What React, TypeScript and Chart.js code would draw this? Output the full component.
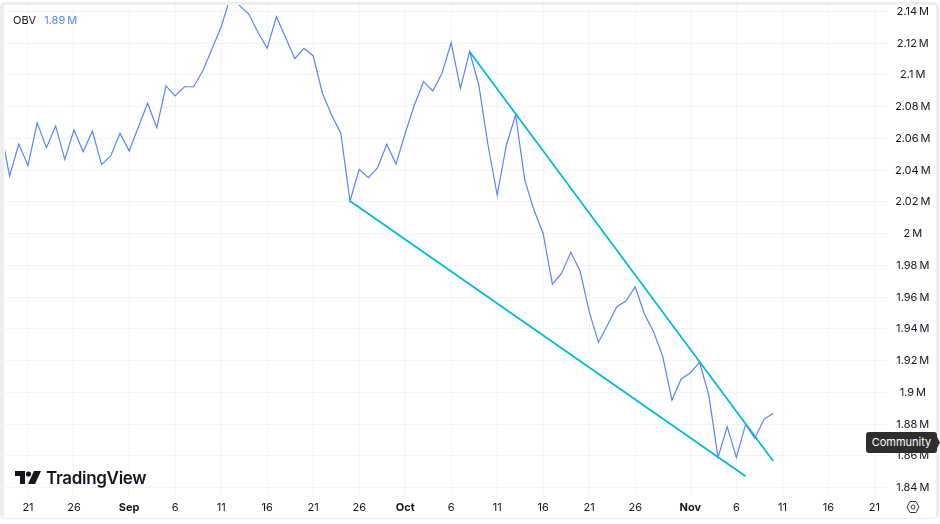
import React, { useEffect, useRef } from "react";
import { Chart, registerables } from "chart.js";

Chart.register(...registerables);

const firstDay = -3;
const obvValues = [
  2.0666, 2.0364, 2.0565, 2.0429, 2.0699, 2.0542, 2.0679, 2.0469, 2.0653, 2.0517,
  2.0647, 2.0435, 2.0492, 2.0633, 2.0521, 2.0672, 2.0822, 2.0668, 2.0931, 2.0868,
  2.0926, 2.0926, 2.1027, 2.1164, 2.1304, 2.1491, 2.1437, 2.1384, 2.1269, 2.1168,
  2.1367, 2.1237, 2.1103, 2.1168, 2.112, 2.0885, 2.0748, 2.0633, 2.0206, 2.0406,
  2.0353, 2.0416, 2.0563, 2.0439, 2.0633, 2.0811, 2.0958, 2.0899, 2.1011, 2.1203,
  2.0916, 2.1147, 2.0937, 2.0559, 2.0244, 2.0559, 2.0748, 2.0338, 2.0149, 2.0,
  1.9683, 1.9751, 1.9883, 1.9767, 1.9509, 1.9316, 1.9425, 1.954, 1.9576, 1.9666,
  1.9494, 1.9383, 1.9225, 1.8952, 1.9085, 1.9124, 1.919, 1.8984, 1.8591, 1.8784,
  1.8591, 1.8799, 1.8711, 1.8831, 1.8869,
];
const upperTrendDays = [48, 81];
const upperTrendValues = [2.1147, 1.8568];
const lowerTrendDays = [35, 78];
const lowerTrendValues = [2.0206, 1.8472];

const xTickDays = [0, 5, 11, 16, 21, 26, 31, 36, 41, 46, 51, 56, 61, 66, 72, 77, 82, 87, 92];
const xTickLabels = ["21", "26", "Sep", "6", "11", "16", "21", "26", "Oct", "6", "11", "16", "21", "26", "Nov", "6", "11", "16", "21"];
const boldLabels = ["Sep", "Oct", "Nov"];
const yTicks = [1.84, 1.86, 1.88, 1.9, 1.92, 1.94, 1.96, 1.98, 2, 2.02, 2.04, 2.06, 2.08, 2.1, 2.12, 2.14];

const FONT = "Inter, 'Liberation Sans', sans-serif";
const INK = "#131722";
const GRID = "#f3f4f6";
const BLUE = "#5585ff";

export default function App() {
  const ref = useRef<HTMLCanvasElement>(null);
  useEffect(() => {
    document.body.style.margin = "0";
    const chart = new Chart(ref.current!, {
      type: "line",
      data: {
        datasets: [
          {
            data: obvValues.map((y, i) => ({ x: firstDay + i, y })),
            borderColor: BLUE,
            borderWidth: 1.2,
            pointRadius: 0,
            tension: 0,
            order: 0,
          },
          {
            data: upperTrendDays.map((x, i) => ({ x, y: upperTrendValues[i] })),
            borderColor: "#00bcd4",
            borderWidth: 1.8,
            pointRadius: 0,
            order: 1,
          },
          {
            data: lowerTrendDays.map((x, i) => ({ x, y: lowerTrendValues[i] })),
            borderColor: "#00bcd4",
            borderWidth: 1.8,
            pointRadius: 0,
            order: 1,
          },
        ],
      },
      options: {
        animation: false,
        responsive: false,
        layout: { padding: { left: 5, top: 5, right: 3, bottom: 5 } },
        plugins: { legend: { display: false }, tooltip: { enabled: false } },
        scales: {
          x: {
            type: "linear",
            min: -2.5,
            max: 93.48,
            afterBuildTicks: (s: any) => {
              s.ticks = xTickDays.map((value) => ({ value }));
            },
            afterFit: (s: any) => {
              s.height = 24;
              s.paddingLeft = 0;
              s.paddingRight = 0;
            },
            grid: { color: GRID, drawTicks: false, lineWidth: 1 },
            border: { display: false },
            ticks: {
              autoSkip: false,
              maxRotation: 0,
              padding: 6,
              color: INK,
              font: (c: any) => {
                const label = xTickLabels[xTickDays.indexOf(c.tick?.value)];
                return { family: FONT, size: 11, weight: boldLabels.includes(label) ? "bold" : "normal" };
              },
              callback: (v: any) => xTickLabels[xTickDays.indexOf(v)] ?? "",
            },
          },
          y: {
            position: "right",
            min: 1.8354,
            max: 2.1441,
            afterBuildTicks: (s: any) => {
              s.ticks = yTicks.map((value) => ({ value }));
            },
            afterFit: (s: any) => {
              s.width = 49;
              s.paddingTop = 0;
              s.paddingBottom = 0;
            },
            grid: { color: GRID, drawTicks: false, lineWidth: 1 },
            border: { display: false },
            ticks: {
              crossAlign: "center",
              padding: 7,
              color: INK,
              font: { family: FONT, size: 11 },
              callback: (v: any) => `${v}\u2009M`,
            },
          },
        },
      },
    } as any);
    return () => chart.destroy();
  }, []);

  return (
    <div style={{ position: "absolute", left: 0, top: 0, width: 940, height: 524, background: "#fff", overflow: "hidden", fontFamily: FONT }}>
      <div style={{ position: "absolute", left: 0, top: 2, width: 932, height: 513, borderStyle: "solid", borderColor: "#eeeeee", borderWidth: "3px 3px 1px 4px", borderRadius: 5 }} />
      <canvas ref={ref} width={940} height={524} style={{ position: "absolute", left: 0, top: 0, display: "block" }} />
      <div style={{ position: "absolute", left: 13, top: 13, fontSize: 11, lineHeight: "14px", color: INK, whiteSpace: "nowrap" }}>
        OBV<span style={{ color: BLUE, marginLeft: 8 }}>1.89{"\u2009"}M</span>
      </div>
      <svg style={{ position: "absolute", left: 15, top: 471 }} width={26} height={14} viewBox="0 0 26 14">
        <path d="M0 0H10V13H5V5H0Z M19 0H26L20 13H13Z" fill={INK} />
        <circle cx={13.5} cy={3} r={2.6} fill={INK} />
      </svg>
      <div style={{ position: "absolute", left: 46, top: 467, fontSize: 17, lineHeight: "22px", fontWeight: 600, letterSpacing: -0.3, color: INK, whiteSpace: "nowrap" }}>TradingView</div>
      <svg style={{ position: "absolute", left: 906, top: 500 }} width={14} height={14} viewBox="0 0 14 14">
        <path d="M4 1.5H10L13 7L10 12.5H4L1 7Z" fill="none" stroke="#363a45" strokeWidth={1} />
        <circle cx={7} cy={7} r={2} fill="none" stroke="#363a45" strokeWidth={1} />
      </svg>
      <div style={{ position: "absolute", left: 866, top: 432, width: 71, height: 21, background: "#2e2e30", borderRadius: 3, color: "#fff", fontSize: 11, lineHeight: "21px", textAlign: "center" }}>Community</div>
      <svg style={{ position: "absolute", left: 937, top: 437 }} width={3} height={11} viewBox="0 0 3 11">
        <path d="M0 0L3 5.5L0 11Z" fill="#2e2e30" />
      </svg>
    </div>
  );
}
